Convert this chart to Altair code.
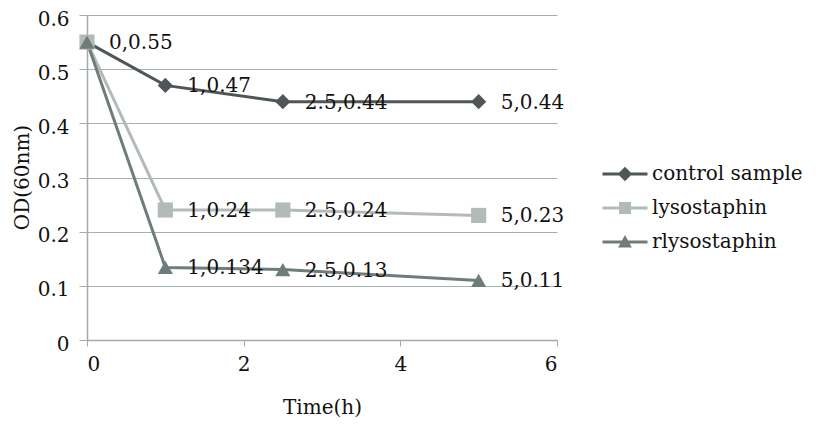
import altair as alt
import pandas as pd

series_names = ["control sample", "lysostaphin", "rlysostaphin"]
times = [0, 1, 2.5, 5]
control_vals = [0.55, 0.47, 0.44, 0.44]
lyso_vals = [0.55, 0.24, 0.24, 0.23]
rlyso_vals = [0.55, 0.134, 0.13, 0.11]
control_labels = ["0,0.55", "1,0.47", "2.5,0.44", "5,0.44"]
lyso_labels = ["", "1,0.24", "2.5,0.24", "5,0.23"]
rlyso_labels = ["", "1,0.134", "2.5,0.13", "5,0.11"]
x_ticks = [0, 2, 4, 6]
y_ticks = [0, 0.1, 0.2, 0.3, 0.4, 0.5, 0.6]

colors = ["#4f5657", "#b3bbb9", "#6f7c7b"]
shapes = ["diamond", "square", "triangle-up"]
legend_paths = [
    "M-3.75,-0.25H3.75V0.25H-3.75Z M0,-1.2L1.2,0L0,1.2L-1.2,0Z",
    "M-3.75,-0.25H3.75V0.25H-3.75Z M-1,-1H1V1H-1Z",
    "M-3.75,-0.25H3.75V0.25H-3.75Z M0,-1.15L1.15,0.9H-1.15Z",
]

rows = []
for name, vals, labs in zip(series_names,
                            [control_vals, lyso_vals, rlyso_vals],
                            [control_labels, lyso_labels, rlyso_labels]):
    for i, (t, v, l) in enumerate(zip(times, vals, labs)):
        rows.append({"series": name, "time": t, "od": v, "label": l, "order": i})
df = pd.DataFrame(rows)

FONT = "DejaVu Serif"

x = alt.X("time:Q", scale=alt.Scale(domain=[0, 6], nice=False),
          axis=alt.Axis(values=x_ticks, title="Time(h)", grid=False,
                        tickSize=6, labelPadding=8, titleBaseline="middle",
                        titleY=67))
y = alt.Y("od:Q", scale=alt.Scale(domain=[0, 0.6], nice=False),
          axis=alt.Axis(values=y_ticks, format=".1~f", title="OD(60nm)",
                        grid=True, tickSize=8, labelPadding=10, labelOffset=4,
                        titleBaseline="middle", titleX=-65, titleY=162))

base = alt.Chart(df)

line_layers = [
    base.transform_filter(alt.datum.series == name).mark_line(
        strokeWidth=3, color=col
    ).encode(x=x, y=y, order="order:Q")
    for name, col in zip(series_names, colors)
]
point_layers = [
    base.transform_filter(alt.datum.series == name).mark_point(
        filled=True, opacity=1, size=230, shape=shp, color=col
    ).encode(x=x, y=y)
    for name, shp, col in zip(series_names, shapes, colors)
]
texts = base.mark_text(align="left", baseline="middle", dx=22, dy=1, font=FONT,
                       fontSize=20, color="#111111").encode(x=x, y=y, text="label:N")

leg = alt.Legend(title=None, orient="none", legendX=528, legendY=149,
                 labelFont=FONT, labelFontSize=20, labelColor="#111111",
                 symbolSize=144, labelOffset=17, rowPadding=14, symbolStrokeWidth=0)
legend_layer = base.mark_point(filled=True, opacity=1).encode(
    x=x, y=y,
    color=alt.Color("series:N", scale=alt.Scale(domain=series_names, range=colors), legend=leg),
    shape=alt.Shape("series:N", scale=alt.Scale(domain=series_names, range=legend_paths), legend=leg),
).transform_filter("false")

chart = alt.layer(*line_layers, *point_layers, texts, legend_layer).properties(
    width=470, height=325,
    autosize=alt.AutoSizeParams(type="none"),
    padding={"left": 79, "top": 7, "right": 258, "bottom": 81},
).configure_view(stroke=None).configure_axis(
    labelFont=FONT, labelFontSize=20, labelColor="#111111",
    titleFont=FONT, titleFontSize=20, titleColor="#111111", titleFontWeight="normal",
    domainColor="#a3acac", tickColor="#a3acac", gridColor="#a7b0b0",
    domainWidth=1.5, gridWidth=1.2,
)

chart.save("out.html", embed_options={"renderer": "svg", "actions": False})
